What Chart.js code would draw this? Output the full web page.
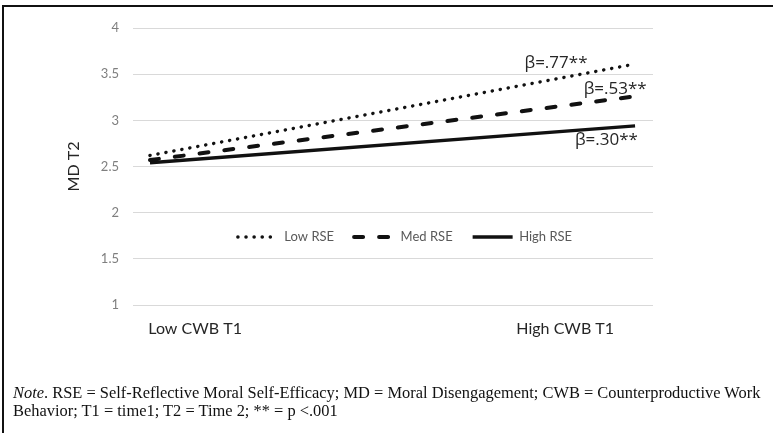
<!DOCTYPE html>
<html>
<head>
<meta charset="utf-8">
<script src="https://cdn.jsdelivr.net/npm/chart.js@4/dist/chart.umd.min.js"></script>
<style>
  html, body { margin: 0; padding: 0; background: #fff; }
  #wrap { position: relative; width: 773px; height: 433px; overflow: hidden; background: #fff; }
  #frame { position: absolute; left: 2px; top: 5px; width: 800px; height: 500px;
           border-left: 2px solid #111; border-top: 2px solid #111; box-sizing: border-box; }
  #cv { position: absolute; left: 0; top: 0; }
  #note { position: absolute; left: 13px; top: 384px; font-family: "Liberation Serif", "Times New Roman", serif;
          color: #111; line-height: 18px; white-space: nowrap; }
</style>
</head>
<body>
<div id="wrap">
  <div id="frame"></div>
  <canvas id="cv" width="773" height="433"></canvas>
  <div id="note"><div id="n1"><i>Note</i>. RSE = Self-Reflective Moral Self-Efficacy; MD = Moral Disengagement; CWB = Counterproductive Work</div><div id="n2">Behavior; T1 = time1; T2 = Time 2; ** = p &lt;.001</div></div>
</div>
<script>
// ---- data ----
const xLabels = ['Low CWB T1', 'High CWB T1'];
const xPoints = [0, 1];
const seriesNames = ['Low RSE', 'Med RSE', 'High RSE'];
const lowRSE = [2.62, 3.61];
const medRSE = [2.57, 3.26];
const highRSE = [2.54, 2.94];
const betaLabels = ['β=.77**', 'β=.53**', 'β=.30**'];
const yMin = 1, yMax = 4, yStep = 0.5;

// ---- layout helpers (not data) ----
const xTickPos = [0.093, 0.856];
const betaPos = [{x: 0.837, y: 3.62}, {x: 0.959, y: 3.34}, {x: 0.941, y: 2.79}];

// fit note font size to reference width
(function () {
  const c = document.createElement('canvas').getContext('2d');
  c.font = '100px "Liberation Serif"';
  const w = c.measureText('Note. RSE = Self-Reflective Moral Self-Efficacy; MD = Moral Disengagement; CWB = Counterproductive Work').width;
  const fs = 100 * 749 / w;
  document.getElementById('note').style.fontSize = fs.toFixed(2) + 'px';
})();

const toPts = arr => arr.map((v, i) => ({x: xPoints[i], y: v}));

const legendPlacer = {
  id: 'legendPlacer',
  afterInit(chart) {
    const lg = chart.legend;
    const orig = lg.fit.bind(lg);
    lg.fit = function () { orig(); this.height = 0; };
  },
  afterLayout(chart) {
    const lg = chart.legend, ca = chart.chartArea;
    lg.left = ca.left + 24; lg.right = ca.right; lg.width = lg.right - lg.left;
    lg.top = 210.5; lg.bottom = lg.top + 50; lg.height = 50;
  }
};

const betaText = {
  id: 'betaText',
  afterDatasetsDraw(chart) {
    const {ctx, scales: {x, y}} = chart;
    ctx.save();
    ctx.font = '17px "Open Sans", "Noto Sans", sans-serif';
    ctx.fillStyle = '#262626';
    ctx.textAlign = 'center';
    ctx.textBaseline = 'middle';
    betaLabels.forEach((t, i) => {
      ctx.fillText(t, x.getPixelForValue(betaPos[i].x), y.getPixelForValue(betaPos[i].y));
    });
    ctx.restore();
  }
};

new Chart(document.getElementById('cv'), {
  type: 'line',
  data: {
    datasets: [
      {label: seriesNames[0], data: toPts(lowRSE), borderColor: '#111', backgroundColor: '#111',
       borderWidth: 3.5, borderDash: [0.1, 8], borderCapStyle: 'round'},
      {label: seriesNames[1], data: toPts(medRSE), borderColor: '#111', backgroundColor: '#111',
       borderWidth: 4, borderDash: [9, 16], borderCapStyle: 'round'},
      {label: seriesNames[2], data: toPts(highRSE), borderColor: '#111', backgroundColor: '#111',
       borderWidth: 3.5, borderCapStyle: 'butt'}
    ]
  },
  options: {
    responsive: false,
    animation: false,
    devicePixelRatio: 1,
    layout: {padding: {left: 0, top: 28, right: 120, bottom: 88}},
    elements: {point: {radius: 0}, line: {tension: 0}},
    plugins: {
      legend: {
        position: 'bottom',
        labels: {
          usePointStyle: true, pointStyle: 'line', pointStyleWidth: 40,
          padding: 20, color: '#595959',
          font: {family: 'Lato, "Noto Sans", sans-serif', size: 13},
          generateLabels: chart => {
            const items = Chart.defaults.plugins.legend.labels.generateLabels(chart);
            items.forEach((it, i) => {
              const ds = chart.data.datasets[i];
              it.lineDash = ds.borderDash || [];
              it.lineWidth = ds.borderWidth;
              it.lineCap = ds.borderCapStyle;
              it.strokeStyle = ds.borderColor;
              it.fillStyle = ds.borderColor;
              it.pointStyle = 'line';
            });
            return items;
          }
        }
      },
      tooltip: {enabled: false}
    },
    scales: {
      x: {
        type: 'linear', min: -0.035, max: 1.037,
        grid: {display: false, drawTicks: false},
        border: {display: false},
        afterBuildTicks: s => { s.ticks = xTickPos.map(v => ({value: v})); },
        afterFit: s => { s.height = 40; },
        ticks: {
          autoSkip: false, maxRotation: 0, padding: 14,
          color: '#262626', font: {family: 'Lato, "Noto Sans", sans-serif', size: 16},
          callback: (v, i) => xLabels[i]
        }
      },
      y: {
        min: yMin, max: yMax,
        grid: {color: '#d9d9d9', lineWidth: 1, drawTicks: false},
        border: {display: false},
        afterFit: s => { s.width = 133; },
        ticks: {
          stepSize: yStep, padding: 14, color: '#7f7f7f',
          font: {family: 'Lato, "Noto Sans", sans-serif', size: 13},
          callback: v => String(v)
        },
        title: {
          display: true, text: 'MD T2', color: '#262626',
          font: {family: 'Lato, "Noto Sans", sans-serif', size: 16},
          padding: {top: 64.4, bottom: 0}
        }
      }
    }
  },
  plugins: [legendPlacer, betaText]
});
</script>
</body>
</html>
